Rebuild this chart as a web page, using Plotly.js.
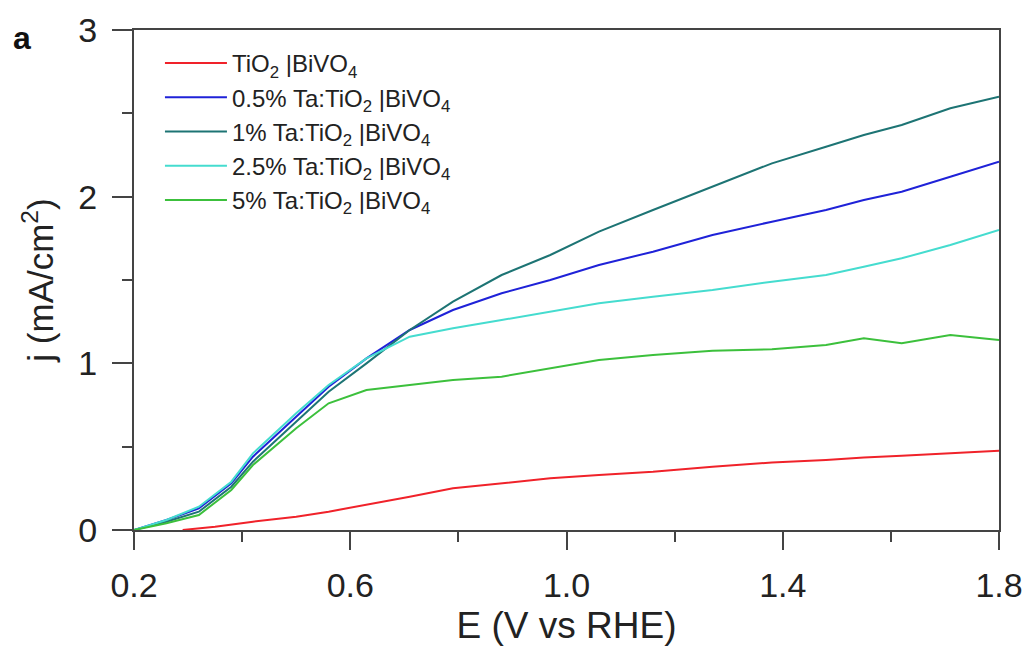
<!DOCTYPE html>
<html>
<head>
<meta charset="utf-8">
<script src="https://cdn.plot.ly/plotly-3.0.1.min.js"></script>
<style>html,body{margin:0;padding:0;background:#fff;}#chart{width:1031px;height:646px;}</style>
</head>
<body>
<div id="chart"></div>
<script>
// Potential E (V vs RHE)
const E = [0.2, 0.26, 0.32, 0.38, 0.42, 0.46, 0.5, 0.56, 0.63, 0.71, 0.79, 0.88, 0.97, 1.06, 1.16, 1.27, 1.38, 1.48, 1.55, 1.62, 1.71, 1.8];
const E_TiO2 = [0.29, 0.35, 0.42, 0.5, 0.56, 0.63, 0.71, 0.79, 0.88, 0.97, 1.06, 1.16, 1.27, 1.38, 1.48, 1.55, 1.62, 1.71, 1.8];

// Current density j (mA/cm2)
const j_TiO2 = [0, 0.02, 0.05, 0.08, 0.11, 0.15, 0.2, 0.25, 0.28, 0.31, 0.33, 0.35, 0.38, 0.405, 0.42, 0.435, 0.445, 0.46, 0.475];
const j_Ta05 = [0, 0.06, 0.13, 0.28, 0.44, 0.56, 0.68, 0.86, 1.03, 1.2, 1.32, 1.42, 1.5, 1.59, 1.67, 1.77, 1.85, 1.92, 1.98, 2.03, 2.12, 2.21];
const j_Ta1 = [0, 0.05, 0.11, 0.26, 0.41, 0.53, 0.65, 0.83, 1.0, 1.2, 1.37, 1.53, 1.65, 1.79, 1.92, 2.06, 2.2, 2.3, 2.37, 2.43, 2.53, 2.6];
const j_Ta25 = [0, 0.06, 0.14, 0.29, 0.46, 0.58, 0.7, 0.87, 1.03, 1.16, 1.21, 1.26, 1.31, 1.36, 1.4, 1.44, 1.49, 1.53, 1.58, 1.63, 1.71, 1.8];
const j_Ta5 = [0, 0.04, 0.09, 0.24, 0.39, 0.5, 0.61, 0.76, 0.84, 0.87, 0.9, 0.92, 0.97, 1.02, 1.05, 1.075, 1.085, 1.11, 1.15, 1.12, 1.17, 1.14];

const seriesNames = [
  'TiO<sub>2</sub> |BiVO<sub>4</sub>',
  '0.5% Ta:TiO<sub>2</sub> |BiVO<sub>4</sub>',
  '1% Ta:TiO<sub>2</sub> |BiVO<sub>4</sub>',
  '2.5% Ta:TiO<sub>2</sub> |BiVO<sub>4</sub>',
  '5% Ta:TiO<sub>2</sub> |BiVO<sub>4</sub>'
];
const seriesColors = ['#f0222a', '#1f22d8', '#1d7474', '#45dccf', '#3cc03c'];
const xs = [E_TiO2, E, E, E, E];
const ys = [j_TiO2, j_Ta05, j_Ta1, j_Ta25, j_Ta5];

const traces = ys.map((y, i) => ({
  x: xs[i], y: y, type: 'scatter', mode: 'lines',
  name: seriesNames[i],
  line: {color: seriesColors[i], width: 2}
}));

const fontFam = 'Liberation Sans, Arial, sans-serif';
const layout = {
  width: 1031, height: 646,
  margin: {l: 134, r: 32, t: 30, b: 116},
  paper_bgcolor: '#fff', plot_bgcolor: '#fff',
  font: {family: fontFam, color: '#222'},
  showlegend: true,
  legend: {
    x: 0.03, y: 0.978, xanchor: 'left', yanchor: 'top',
    bgcolor: 'rgba(0,0,0,0)', font: {size: 24, family: fontFam, color: '#222'},
    itemwidth: 62, tracegroupgap: 0
  },
  xaxis: {
    range: [0.2, 1.8], tick0: 0.2, dtick: 0.4, tickformat: '.1f',
    showgrid: false, zeroline: false,
    showline: true, mirror: true, linecolor: '#444', linewidth: 2,
    ticks: 'outside', ticklen: 18, tickwidth: 2, tickcolor: '#444',
    ticklabelstandoff: 6,
    minor: {dtick: 0.2, tick0: 0.2, ticks: 'outside', ticklen: 10, tickwidth: 2, tickcolor: '#444', showgrid: false},
    tickfont: {size: 34, family: fontFam, color: '#222'},
    title: {text: 'E (V vs RHE)', font: {size: 37, family: fontFam, color: '#222'}, standoff: 10}
  },
  yaxis: {
    range: [0, 3], tick0: 0, dtick: 1,
    showgrid: false, zeroline: false,
    showline: true, mirror: true, linecolor: '#444', linewidth: 2,
    ticks: 'outside', ticklen: 20, tickwidth: 2, tickcolor: '#444',
    ticklabelstandoff: 8,
    minor: {dtick: 0.5, ticks: 'outside', ticklen: 10, tickwidth: 2, tickcolor: '#444', showgrid: false},
    tickfont: {size: 34, family: fontFam, color: '#222'},
    title: {text: 'j (mA/cm<sup>2</sup>)', font: {size: 35, family: fontFam, color: '#222'}, standoff: 14}
  },
  annotations: [{
    text: '<b>a</b>', xref: 'paper', yref: 'paper', x: -0.142, y: 0.985,
    xanchor: 'left', yanchor: 'middle', showarrow: false,
    font: {size: 32, family: fontFam, color: '#111'}
  }]
};

Plotly.newPlot('chart', traces, layout, {displayModeBar: false, staticPlot: true});
</script>
</body>
</html>
